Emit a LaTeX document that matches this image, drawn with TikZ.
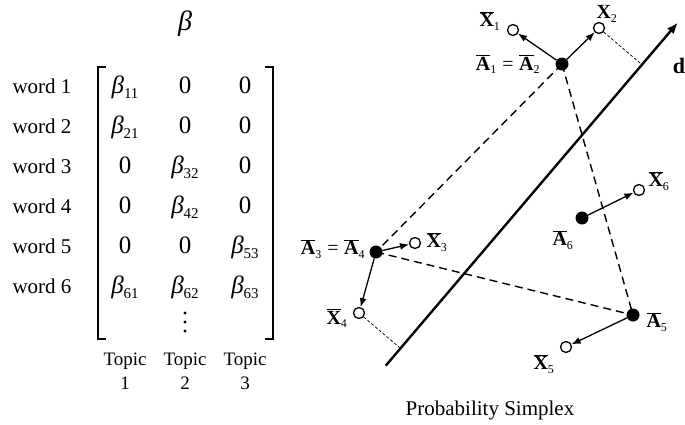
\documentclass[tikz,border=0pt]{standalone}
\usepackage{fontspec}
\setmainfont{Liberation Serif}
\usetikzlibrary{arrows.meta,calc,backgrounds}
\newcommand\ovb[2]{$\overline{\mbox{\bfseries #1}}_{\mbox{\fontsize{12}{12}\selectfont #2}}$}
\newcommand\plainb[2]{$\mbox{\bfseries #1}_{\mbox{\fontsize{12}{12}\selectfont #2}}$}
\newcommand\bt[1]{{\itshape β}\raisebox{-5pt}{\fontsize{15}{15}\selectfont #1}}
\begin{document}
\begin{tikzpicture}[x=1pt,y=-1pt,
  wordlbl/.style={font=\fontsize{21}{21}\selectfont, anchor=base, inner sep=0},
  ent/.style={font=\fontsize{25}{25}\selectfont, anchor=base, inner sep=0},
  topiclbl/.style={font=\fontsize{19}{24}\selectfont, align=center, inner sep=0},
  brk/.style={line width=1.3pt},
  dotf/.style={circle,fill=black,inner sep=0,minimum size=13pt},
  dotc/.style={circle,draw=black,line width=1.3pt,fill=white,inner sep=0,minimum size=11pt},
  arr/.style={line width=1.3pt,-{Latex[length=9pt,width=7pt]}},
  dsh/.style={line width=1.4pt,dash pattern=on 8pt off 5pt},
  prj/.style={line width=0.7pt,dash pattern=on 3pt off 2pt},
  dline/.style={line width=2.4pt,-{Latex[length=11pt,width=9pt]}},
  lbl/.style={font=\fontsize{20}{20}\selectfont, inner sep=0}]
\useasboundingbox (0,0) rectangle (685,424);
% ---- matrix side ----
\node[font=\fontsize{28}{28}\selectfont\itshape, inner sep=0] (beta) at (185,24) {β};
\foreach \i/\y in {1/93,2/133,3/173,4/213,5/253,6/293}
  \node[wordlbl] (w\i) at (42,\y) {word \i};
\node[ent] (e11) at (125,93) {\bt{11}};
\node[ent] (e12) at (185,93) {0};
\node[ent] (e13) at (245,93) {0};
\node[ent] (e21) at (125,133) {\bt{21}};
\node[ent] (e22) at (185,133) {0};
\node[ent] (e23) at (245,133) {0};
\node[ent] (e31) at (125,173) {0};
\node[ent] (e32) at (185,173) {\bt{32}};
\node[ent] (e33) at (245,173) {0};
\node[ent] (e41) at (125,213) {0};
\node[ent] (e42) at (185,213) {\bt{42}};
\node[ent] (e43) at (245,213) {0};
\node[ent] (e51) at (125,253) {0};
\node[ent] (e52) at (185,253) {0};
\node[ent] (e53) at (245,253) {\bt{53}};
\node[ent] (e61) at (125,293) {\bt{61}};
\node[ent] (e62) at (185,293) {\bt{62}};
\node[ent] (e63) at (245,293) {\bt{63}};
\foreach \y in {313,322,331} \fill (185,\y) circle[radius=1.6pt];
\draw[brk] (106,67) -- (98,67) -- (98,339) -- (106,339);
\draw[brk] (265,67) -- (273,67) -- (273,339) -- (265,339);
\node[topiclbl] (t1) at (125,371) {Topic\\1};
\node[topiclbl] (t2) at (185,371) {Topic\\2};
\node[topiclbl] (t3) at (245,371) {Topic\\3};
% ---- simplex side ----
\coordinate (d0) at (385.7,365.7);
\coordinate (d1) at (677.7,22.7);
\draw[dline] (d0) -- (d1);
\node[font=\fontsize{22}{22}\selectfont\bfseries, inner sep=0] (dl) at (679,66) {d};
\node[dotf] (A12) at (562,64) {};
\node[dotc] (X1) at (513,30) {};
\node[dotc] (X2) at (599,28) {};
\node[dotf] (A34) at (376,252) {};
\node[dotc] (X3) at (415,243) {};
\node[dotc] (X4) at (359,313) {};
\node[dotf] (A5) at (633,315) {};
\node[dotc] (X5) at (566,347) {};
\node[dotf] (A6) at (582,218) {};
\node[dotc] (X6) at (639,190) {};
\begin{scope}[on background layer]
  \draw[dsh] (A12.center) -- (A34.center);
  \draw[dsh] (A12.center) -- (A5.center);
  \draw[dsh] (A34.center) -- (A5.center);
\end{scope}
\draw[prj] (X2) -- ($(d0)!(X2)!(d1)$);
\draw[prj] (X4) -- ($(d0)!(X4)!(d1)$);
\draw[arr] (A12) -- (X1);
\draw[arr] (A12) -- (X2);
\draw[arr] (A34) -- (X3);
\draw[arr] (A34) -- (X4);
\draw[arr] (A5) -- (X5);
\draw[arr] (A6) -- (X6);
\node[lbl] (lX1) at (490,21) {\ovb{X}{1}};
\node[lbl] (lX2) at (607,14) {\plainb{X}{2}};
\node[lbl] (lA12) at (508,64) {\ovb{A}{1}\;=\;\ovb{A}{2}};
\node[lbl] (lX6) at (659,181) {\ovb{X}{6}};
\node[lbl] (lA6) at (563,240) {\ovb{A}{6}};
\node[lbl] (lA34) at (333,249) {\ovb{A}{3}\;=\;\ovb{A}{4}};
\node[lbl] (lX3) at (437,242) {\ovb{X}{3}};
\node[lbl] (lX4) at (337,318) {\ovb{X}{4}};
\node[lbl] (lA5) at (657,322) {\ovb{A}{5}};
\node[lbl] (lX5) at (544,364) {\ovb{X}{5}};
\node[font=\fontsize{21}{21}\selectfont, inner sep=0] (ps) at (490,410) {Probability Simplex};
\end{tikzpicture}
\end{document}
